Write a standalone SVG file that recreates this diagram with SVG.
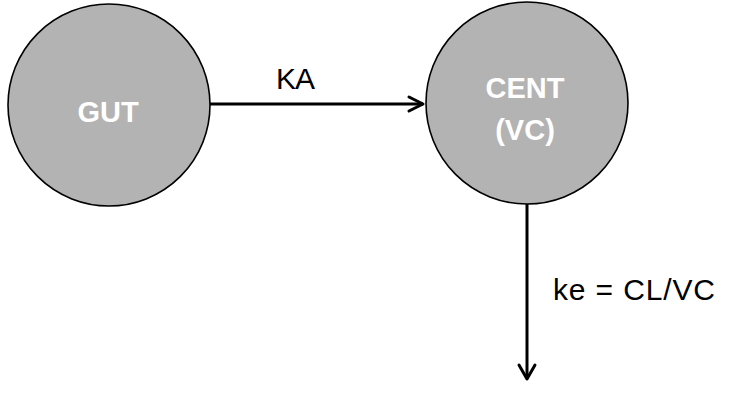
<svg xmlns="http://www.w3.org/2000/svg" width="735" height="408" viewBox="0 0 735 408">
<style>
.node{fill:#b3b3b3;stroke:#000;stroke-width:1.6}
.nl{font-family:"Liberation Sans",Arial,sans-serif;font-weight:bold;font-size:29px;fill:#fff;text-anchor:middle}
.el{font-family:"Liberation Sans",Arial,sans-serif;font-size:30px;fill:#000}
.edge{stroke:#000;stroke-width:3;fill:none}
.head{stroke:#000;stroke-width:3;fill:none;stroke-linecap:round;stroke-linejoin:round}
</style>
<rect width="735" height="408" fill="#fff"/>
<g id="gut">
<circle class="node" cx="109" cy="105" r="101"/>
<text class="nl" x="108" y="122">GUT</text>
</g>
<g id="cent">
<circle class="node" cx="527" cy="103" r="101"/>
<text class="nl" x="525" y="98">CENT</text>
<text class="nl" x="525" y="140">(VC)</text>
</g>
<g id="connectors">
<line class="edge" x1="210" y1="104" x2="423" y2="104"/>
<polyline class="head" points="409,97 423,104 409,111"/>
<text class="el" x="276" y="89" textLength="39">KA</text>
<line class="edge" x1="527" y1="204" x2="527" y2="379"/>
<polyline class="head" points="519,365 527,379 535,365"/>
<text class="el" x="553" y="300" textLength="162">ke = CL/VC</text>
</g>
</svg>
